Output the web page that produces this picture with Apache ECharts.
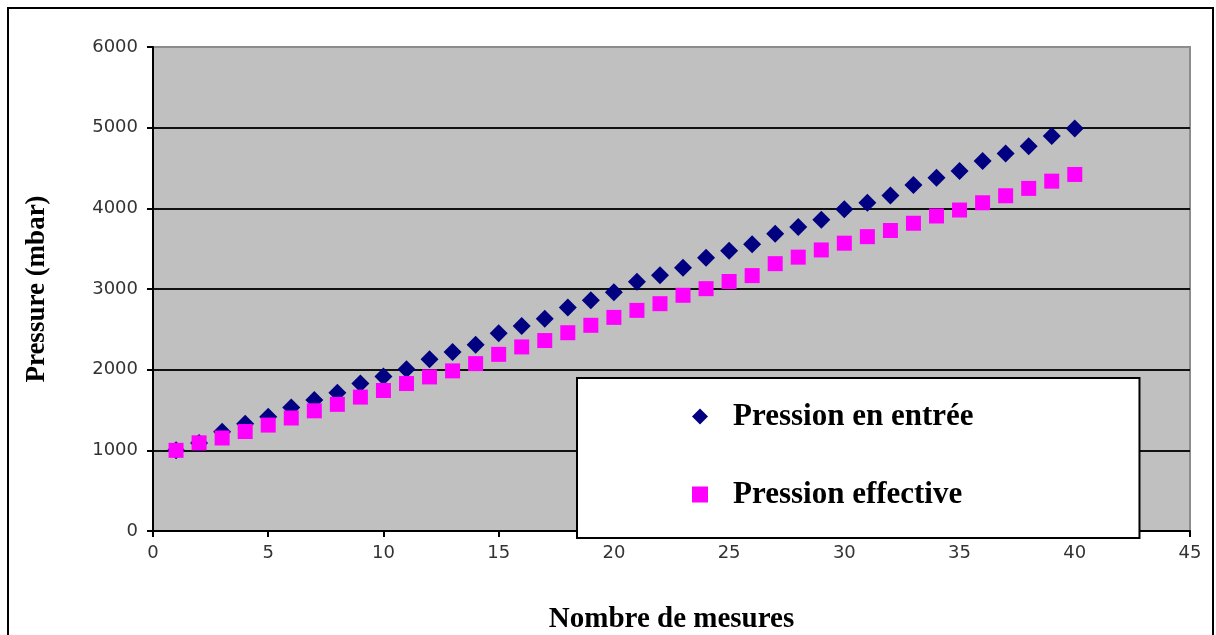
<!DOCTYPE html>
<html>
<head>
<meta charset="utf-8">
<script src="https://cdn.jsdelivr.net/npm/echarts@6/dist/echarts.min.js"></script>
<style>
html,body{margin:0;padding:0;background:#fff;}
#chart{width:1216px;height:635px;}
</style>
</head>
<body>
<div id="chart"></div>
<script>
const measureIndex = [1,2,3,4,5,6,7,8,9,10,11,12,13,14,15,16,17,18,19,20,21,22,23,24,25,26,27,28,29,30,31,32,33,34,35,36,37,38,39,40];
const pressionEntree = [1000,1092,1230,1330,1415,1530,1625,1715,1830,1915,2005,2130,2220,2310,2450,2540,2630,2770,2860,2960,3090,3170,3262,3387,3475,3556,3685,3770,3858,3988,4068,4160,4288,4378,4464,4588,4679,4769,4896,4990];
const pressionEffective = [1000,1093,1153,1233,1313,1401,1490,1570,1660,1742,1828,1910,1985,2075,2190,2282,2361,2458,2550,2648,2735,2818,2922,3004,3093,3166,3314,3395,3484,3568,3649,3725,3815,3905,3979,4069,4156,4247,4337,4420];
const seriesNames = ['Pression en entrée','Pression effective'];
const xTitle = 'Nombre de mesures';
const yTitle = 'Pressure (mbar)';

const chart = echarts.init(document.getElementById('chart'), null, {renderer:'canvas'});
const serif = '"Liberation Serif","Times New Roman",serif';
const sans = '"DejaVu Sans",Arial,sans-serif';

chart.setOption({
  animation:false,
  backgroundColor:'#fff',
  graphic:[{
    type:'rect', shape:{x:8,y:8,width:1205,height:640},
    style:{fill:'none',stroke:'#000',lineWidth:2}, z:0, silent:true
  }],
  grid:{left:153,top:47,right:26,bottom:104,containLabel:false,outerBoundsMode:'none',show:true,backgroundColor:'#c0c0c0',borderColor:'#8c8c8c',borderWidth:2},
  xAxis:{
    type:'value',min:0,max:45,interval:5,
    name:xTitle,nameLocation:'middle',nameGap:74,
    nameTextStyle:{fontFamily:serif,fontWeight:'bold',fontSize:29,color:'#000'},
    axisLine:{lineStyle:{color:'#000',width:2}},
    axisTick:{show:true,length:6,lineStyle:{color:'#000',width:2}},
    axisLabel:{fontFamily:sans,fontSize:18,color:'#333',margin:13,formatter:v=>String(v)},
    splitLine:{show:false}
  },
  yAxis:{
    type:'value',min:0,max:6000,interval:1000,
    name:yTitle,nameLocation:'middle',nameGap:102,nameRotate:90,
    nameTextStyle:{fontFamily:serif,fontWeight:'bold',fontSize:27,color:'#000'},
    axisLine:{lineStyle:{color:'#000',width:2}},
    axisTick:{show:true,length:6,lineStyle:{color:'#000',width:2}},
    axisLabel:{fontFamily:sans,fontSize:18,color:'#333',margin:15,formatter:v=>String(v)},
    splitLine:{show:true,showMaxLine:false,lineStyle:{color:'#111',width:2}}
  },
  legend:{
    orient:'vertical',left:577,top:378,
    backgroundColor:'#fff',borderColor:'#000',borderWidth:2,
    padding:[23,166,28,115],
    itemGap:47,itemWidth:16,itemHeight:16,
    textStyle:{fontFamily:serif,fontWeight:'bold',fontSize:31,color:'#000',padding:[0,0,0,20]},
    data:[{name:seriesNames[0],icon:'diamond'},{name:seriesNames[1],icon:'rect'}]
  },
  series:[
    {name:seriesNames[0],type:'scatter',symbol:'diamond',symbolSize:[18,18],
     itemStyle:{color:'#000080',opacity:1},z:2,
     data:measureIndex.map((x,i)=>[x,pressionEntree[i]])},
    {name:seriesNames[1],type:'scatter',symbol:'rect',symbolSize:[15,15],
     itemStyle:{color:'#ff00ff',opacity:1},z:3,
     data:measureIndex.map((x,i)=>[x,pressionEffective[i]])}
  ]
});
</script>
</body>
</html>
